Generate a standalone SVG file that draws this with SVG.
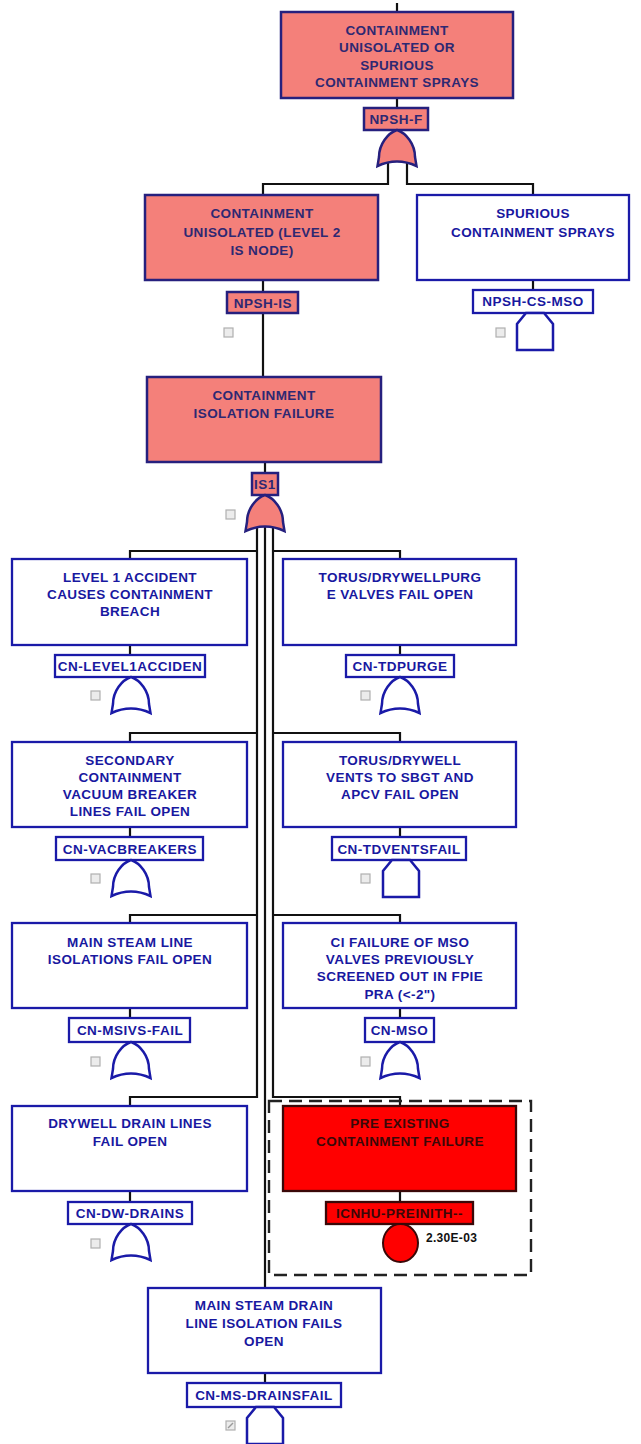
<svg xmlns="http://www.w3.org/2000/svg" xmlns:xlink="http://www.w3.org/1999/xlink" width="641" height="1444" viewBox="0 0 641 1444">
  <style>
    .bg { fill: #ffffff; }
    .wire { fill: none; stroke: #111111; stroke-width: 2.2; }
    .box-w { fill: #ffffff; stroke: #1a1aa8; stroke-width: 2.3; }
    .box-s { fill: #f4807a; stroke: #26207e; stroke-width: 2.5; }
    .box-r { fill: #ff0000; stroke: #3a0808; stroke-width: 2.3; }
    .gate-w { fill: #ffffff; stroke: #1a1aa8; stroke-width: 2.5; }
    .gate-s { fill: #f4807a; stroke: #26207e; stroke-width: 2.5; }
    .gate-r { fill: #ff0000; stroke: #3a0808; stroke-width: 2; }
    .chk { fill: #ececec; stroke: #b0b0b0; stroke-width: 1.2; }
    .frame { fill: none; stroke: #222222; stroke-width: 2.4; stroke-dasharray: 13 7; }
    text { font-family: "Liberation Sans", Arial, sans-serif; font-weight: bold; text-anchor: middle; }
    .t { font-size: 13.5px; letter-spacing: 0.4px; }
    .lbl { font-size: 13.5px; letter-spacing: 0.5px; }
    .tw { fill: #1818a0; }
    .ts { fill: #2e2872; }
    .tr { fill: #3a0808; }
    .val { font-size: 12px; fill: #111111; text-anchor: start; letter-spacing: 0.3px; }
  </style>
  <defs>
    <!-- OR gate, apex at origin -->
    <path id="or" d="M0,0 C9,3 18,14 18,27 L19.5,36 Q0,27 -19.5,36 L-18,27 C-18,14 -9,3 0,0 Z"/>
    <!-- transfer (house) symbol, top centre at origin -->
    <path id="house" d="M-9,0 L9,0 L18,11 L18,37 L-18,37 L-18,11 Z"/>
    <rect id="sq" x="0" y="0" width="9" height="9"/>
  </defs>

  <rect class="bg" x="0" y="0" width="641" height="1444"/>

  <g id="connectors">
    <path class="wire" d="M397,3 V12"/>
    <path class="wire" d="M397,98 V108"/>
    <path class="wire" d="M388,162 V184 H263 V195"/>
    <path class="wire" d="M407,162 V184 H533 V195"/>
    <path class="wire" d="M263,280 V292"/>
    <path class="wire" d="M533,280 V290"/>
    <path class="wire" d="M263,313 V377"/>
    <path class="wire" d="M265,462 V473"/>
    <!-- left bus -->
    <path class="wire" d="M257,526 V1097 H130 V1106"/>
    <path class="wire" d="M257,551 H130 V559"/>
    <path class="wire" d="M257,733 H130 V742"/>
    <path class="wire" d="M257,915 H130 V923"/>
    <!-- middle bus -->
    <path class="wire" d="M265,524 V1288"/>
    <!-- right bus -->
    <path class="wire" d="M273,526 V1097 H400 V1106"/>
    <path class="wire" d="M273,551 H400 V559"/>
    <path class="wire" d="M273,733 H400 V742"/>
    <path class="wire" d="M273,915 H400 V923"/>
    <!-- box to label stubs -->
    <path class="wire" d="M130,645 V655 M400,645 V655"/>
    <path class="wire" d="M130,827 V837 M400,827 V837"/>
    <path class="wire" d="M130,1008 V1018 M400,1008 V1018"/>
    <path class="wire" d="M130,1191 V1202 M400,1191 V1202"/>
    <path class="wire" d="M265,1373 V1383"/>
  </g>

  <g id="npsh-f">
    <rect class="box-s" x="281" y="12" width="232" height="86"/>
    <text class="t ts" x="397" y="35">CONTAINMENT</text>
    <text class="t ts" x="397" y="52">UNISOLATED OR</text>
    <text class="t ts" x="397" y="69.5">SPURIOUS</text>
    <text class="t ts" x="397" y="86.5">CONTAINMENT SPRAYS</text>
    <rect class="box-s" x="364" y="108" width="64" height="22"/>
    <text class="lbl ts" x="396" y="124">NPSH-F</text>
    <use href="#or" class="gate-s" x="397" y="130"/>
  </g>

  <g id="npsh-is">
    <rect class="box-s" x="145" y="195" width="233" height="85"/>
    <text class="t ts" x="262" y="218">CONTAINMENT</text>
    <text class="t ts" x="262" y="236.5">UNISOLATED (LEVEL 2</text>
    <text class="t ts" x="262" y="255">IS NODE)</text>
    <rect class="box-s" x="227" y="292" width="71" height="21"/>
    <text class="lbl ts" x="263" y="307.5">NPSH-IS</text>
    <use href="#sq" class="chk" x="224" y="328"/>
  </g>

  <g id="npsh-cs-mso">
    <rect class="box-w" x="417" y="195" width="212" height="85"/>
    <text class="t tw" x="533" y="218">SPURIOUS</text>
    <text class="t tw" x="533" y="236.5">CONTAINMENT SPRAYS</text>
    <rect class="box-w" x="473" y="290" width="120" height="23"/>
    <text class="lbl tw" x="533" y="306">NPSH-CS-MSO</text>
    <use href="#house" class="gate-w" x="535" y="313"/>
    <use href="#sq" class="chk" x="496" y="328"/>
  </g>

  <g id="is1">
    <rect class="box-s" x="147" y="377" width="234" height="85"/>
    <text class="t ts" x="264" y="399.5">CONTAINMENT</text>
    <text class="t ts" x="264" y="417.5">ISOLATION FAILURE</text>
    <rect class="box-s" x="252" y="473" width="26" height="22"/>
    <text class="lbl ts" x="265" y="489">IS1</text>
    <use href="#or" class="gate-s" x="265" y="495"/>
    <use href="#sq" class="chk" x="226" y="510"/>
  </g>

  <g id="cn-level1acciden">
    <rect class="box-w" x="12" y="559" width="235" height="86"/>
    <text class="t tw" x="130" y="581.5">LEVEL 1 ACCIDENT</text>
    <text class="t tw" x="130" y="598.5">CAUSES CONTAINMENT</text>
    <text class="t tw" x="130" y="616">BREACH</text>
    <rect class="box-w" x="55" y="655" width="150" height="22"/>
    <text class="lbl tw" x="130" y="671">CN-LEVEL1ACCIDEN</text>
    <use href="#or" class="gate-w" x="131" y="677"/>
    <use href="#sq" class="chk" x="91" y="691"/>
  </g>

  <g id="cn-tdpurge">
    <rect class="box-w" x="283" y="559" width="233" height="86"/>
    <text class="t tw" x="400" y="581.5">TORUS/DRYWELLPURG</text>
    <text class="t tw" x="400" y="598.5">E VALVES FAIL OPEN</text>
    <rect class="box-w" x="346" y="655" width="108" height="22"/>
    <text class="lbl tw" x="400" y="671">CN-TDPURGE</text>
    <use href="#or" class="gate-w" x="400" y="677"/>
    <use href="#sq" class="chk" x="361" y="691"/>
  </g>

  <g id="cn-vacbreakers">
    <rect class="box-w" x="12" y="742" width="235" height="85"/>
    <text class="t tw" x="130" y="764.5">SECONDARY</text>
    <text class="t tw" x="130" y="781.5">CONTAINMENT</text>
    <text class="t tw" x="130" y="798.5">VACUUM BREAKER</text>
    <text class="t tw" x="130" y="816">LINES FAIL OPEN</text>
    <rect class="box-w" x="56" y="837" width="147" height="23"/>
    <text class="lbl tw" x="130" y="853.5">CN-VACBREAKERS</text>
    <use href="#or" class="gate-w" x="131" y="860"/>
    <use href="#sq" class="chk" x="91" y="874"/>
  </g>

  <g id="cn-tdventsfail">
    <rect class="box-w" x="283" y="742" width="233" height="85"/>
    <text class="t tw" x="400" y="764.5">TORUS/DRYWELL</text>
    <text class="t tw" x="400" y="781.5">VENTS TO SBGT AND</text>
    <text class="t tw" x="400" y="798.5">APCV FAIL OPEN</text>
    <rect class="box-w" x="332" y="837" width="134" height="23"/>
    <text class="lbl tw" x="399" y="853.5">CN-TDVENTSFAIL</text>
    <use href="#house" class="gate-w" x="401" y="860"/>
    <use href="#sq" class="chk" x="361" y="874"/>
  </g>

  <g id="cn-msivs-fail">
    <rect class="box-w" x="12" y="923" width="235" height="85"/>
    <text class="t tw" x="130" y="946.5">MAIN STEAM LINE</text>
    <text class="t tw" x="130" y="963.5">ISOLATIONS FAIL OPEN</text>
    <rect class="box-w" x="69" y="1018" width="121" height="24"/>
    <text class="lbl tw" x="130" y="1035">CN-MSIVS-FAIL</text>
    <use href="#or" class="gate-w" x="131" y="1042"/>
    <use href="#sq" class="chk" x="91" y="1057"/>
  </g>

  <g id="cn-mso">
    <rect class="box-w" x="283" y="923" width="233" height="85"/>
    <text class="t tw" x="400" y="946.5">CI FAILURE OF MSO</text>
    <text class="t tw" x="400" y="963.5">VALVES PREVIOUSLY</text>
    <text class="t tw" x="400" y="981">SCREENED OUT IN FPIE</text>
    <text class="t tw" x="400" y="998.5">PRA (&lt;-2")</text>
    <rect class="box-w" x="365" y="1018" width="69" height="24"/>
    <text class="lbl tw" x="399.5" y="1035">CN-MSO</text>
    <use href="#or" class="gate-w" x="400" y="1042"/>
    <use href="#sq" class="chk" x="361" y="1057"/>
  </g>

  <g id="cn-dw-drains">
    <rect class="box-w" x="12" y="1106" width="235" height="85"/>
    <text class="t tw" x="130" y="1127.5">DRYWELL DRAIN LINES</text>
    <text class="t tw" x="130" y="1145.5">FAIL OPEN</text>
    <rect class="box-w" x="68" y="1202" width="124" height="22"/>
    <text class="lbl tw" x="130" y="1218">CN-DW-DRAINS</text>
    <use href="#or" class="gate-w" x="131" y="1224"/>
    <use href="#sq" class="chk" x="91" y="1239"/>
  </g>

  <g id="icnhu-preinith">
    <rect class="frame" x="269" y="1101" width="262" height="174"/>
    <rect class="box-r" x="283" y="1106" width="233" height="85"/>
    <text class="t tr" x="400" y="1127.5">PRE EXISTING</text>
    <text class="t tr" x="400" y="1145.5">CONTAINMENT FAILURE</text>
    <rect class="box-r" x="326" y="1202" width="147" height="22"/>
    <text class="lbl tr" x="399.5" y="1218">ICNHU-PREINITH--</text>
    <ellipse class="gate-r" cx="400.5" cy="1243" rx="17.5" ry="19"/>
    <text class="val" x="426" y="1241.5">2.30E-03</text>
  </g>

  <g id="cn-ms-drainsfail">
    <rect class="box-w" x="148" y="1288" width="233" height="85"/>
    <text class="t tw" x="264" y="1309.5">MAIN STEAM DRAIN</text>
    <text class="t tw" x="264" y="1327.5">LINE ISOLATION FAILS</text>
    <text class="t tw" x="264" y="1345.5">OPEN</text>
    <rect class="box-w" x="187" y="1383" width="154" height="24"/>
    <text class="lbl tw" x="264" y="1400">CN-MS-DRAINSFAIL</text>
    <use href="#house" class="gate-w" x="265" y="1407"/>
    <use href="#sq" class="chk" x="226" y="1421"/>
    <path d="M228,1428 L233,1423" fill="none" stroke="#9a9a9a" stroke-width="1.5"/>
  </g>
</svg>
